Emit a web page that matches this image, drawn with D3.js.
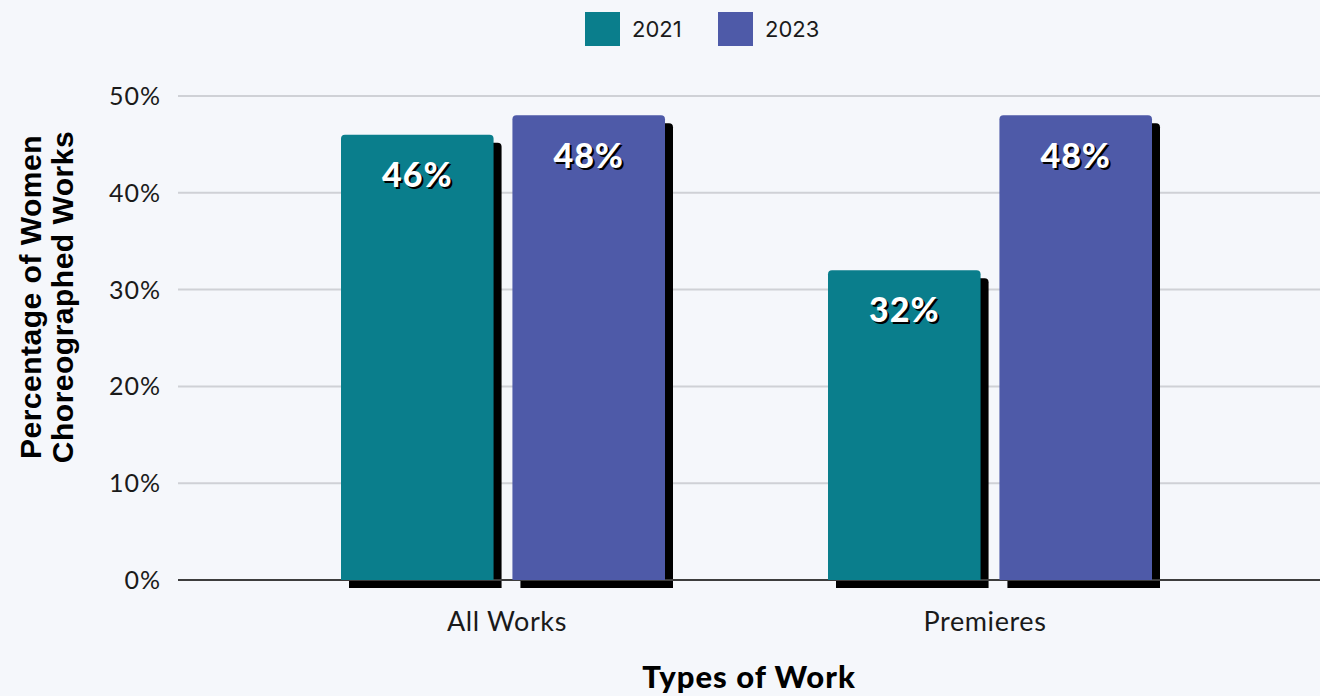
<!DOCTYPE html>
<html><head><meta charset="utf-8">
<script src="https://cdn.jsdelivr.net/npm/d3@7"></script>
<style>
html,body{margin:0;padding:0;background:#f5f7fb;}
svg{display:block;}
</style></head>
<body>
<svg id="chart" width="1320" height="696"></svg>
<script>
const categories = ["All Works", "Premieres"];
const seriesNames = ["2021", "2023"];
const values2021 = [46, 32];
const values2023 = [48, 48];
const yTicks = [0, 10, 20, 30, 40, 50];
const colors = ["#0a7e8c", "#4e5aa8"];

const svg = d3.select("#chart");
const plotLeft = 178, plotRight = 1320;
const y = d3.scaleLinear().domain([0, 50]).range([580, 96]);
const x = d3.scaleBand().domain(categories).range([259.5, 1233.5]).paddingInner(0).paddingOuter(0);
const xs = d3.scaleBand().domain(seriesNames).range([0, 324]).paddingInner(0.11);
const groupOffset = (x.bandwidth() - 324) / 2;

// gridlines
svg.append("g").selectAll("line").data(yTicks.filter(d => d > 0)).join("line")
  .attr("x1", plotLeft).attr("x2", plotRight)
  .attr("y1", d => y(d)).attr("y2", d => y(d))
  .attr("stroke", "#cfd1d6").attr("stroke-width", 2);

// y tick labels
svg.append("g").selectAll("text").data(yTicks).join("text")
  .attr("x", 161).attr("y", d => y(d)).attr("dy", "0.36em")
  .attr("text-anchor", "end")
  .attr("font-family", "Lato, 'Noto Sans', sans-serif").attr("font-size", 25)
  .attr("letter-spacing", 1)
  .attr("fill", "#1a1a1a")
  .text(d => d + "%");

const data = [];
categories.forEach((c, i) => {
  data.push({cat: c, s: "2021", v: values2021[i], color: colors[0]});
  data.push({cat: c, s: "2023", v: values2023[i], color: colors[1]});
});

function roundedTop(x0, y0, w, h, r) {
  return `M${x0},${y0 + h} L${x0},${y0 + r} Q${x0},${y0} ${x0 + r},${y0} L${x0 + w - r},${y0} Q${x0 + w},${y0} ${x0 + w},${y0 + r} L${x0 + w},${y0 + h} Z`;
}

const bx = d => x(d.cat) + groupOffset + xs(d.s);
const bw = xs.bandwidth();

// shadows
svg.append("g").selectAll("path").data(data).join("path")
  .attr("d", d => roundedTop(bx(d) + 8, y(d.v) + 8, bw, y(0) - y(d.v), 4))
  .attr("fill", "#000");

// baseline
svg.append("line").attr("x1", plotLeft).attr("x2", plotRight)
  .attr("y1", y(0)).attr("y2", y(0)).attr("stroke", "#3d3d3d").attr("stroke-width", 2);

// bars
svg.append("g").selectAll("path").data(data).join("path")
  .attr("d", d => roundedTop(bx(d), y(d.v), bw, y(0) - y(d.v), 4))
  .attr("fill", d => d.color);

// value labels
const lbl = svg.append("g").selectAll("g").data(data).join("g")
  .attr("transform", d => `translate(${bx(d) + bw / 2},${y(d.v) + 40})`);
lbl.append("text").attr("x", 2).attr("y", 2).attr("dy", "0.36em")
  .attr("text-anchor", "middle").attr("font-family", "Lato, sans-serif")
  .attr("font-weight", 900).attr("font-size", 34).attr("letter-spacing", 1).attr("fill", "#000")
  .text(d => d.v + "%");
lbl.append("text").attr("dy", "0.36em")
  .attr("text-anchor", "middle").attr("font-family", "Lato, sans-serif")
  .attr("font-weight", 900).attr("font-size", 34).attr("letter-spacing", 1).attr("fill", "#fff")
  .text(d => d.v + "%");

// x tick labels
const labelShift = {"All Works": 4, "Premieres": -5};
svg.append("g").selectAll("text").data(categories).join("text")
  .attr("x", d => x(d) + x.bandwidth() / 2 + labelShift[d]).attr("y", 621).attr("dy", "0.36em")
  .attr("text-anchor", "middle").attr("font-family", "Lato, 'Noto Sans', sans-serif")
  .attr("font-size", 27).attr("letter-spacing", 0.6).attr("fill", "#1a1a1a")
  .text(d => d);

// x axis title
svg.append("text").attr("x", 749).attr("y", 677).attr("dy", "0.36em")
  .attr("text-anchor", "middle").attr("font-family", "Lato, sans-serif")
  .attr("font-weight", 900).attr("font-size", 31).attr("letter-spacing", 1).attr("fill", "#000")
  .text("Types of Work");

// y axis title
const yt = svg.append("text").attr("transform", "translate(0,297) rotate(-90)")
  .attr("text-anchor", "middle").attr("font-family", "'Liberation Sans', Arial, sans-serif")
  .attr("font-weight", 700).attr("font-size", 30).attr("letter-spacing", 0.5).attr("fill", "#000");
yt.append("tspan").attr("x", 0).attr("y", 41).text("Percentage of Women");
yt.append("tspan").attr("x", 0).attr("y", 73).text("Choreographed Works");

// legend
const leg = svg.append("g").selectAll("g").data(seriesNames).join("g")
  .attr("transform", (d, i) => `translate(${585 + i * 133},12)`);
leg.append("rect").attr("width", 35).attr("height", 34).attr("fill", (d, i) => colors[i]);
leg.append("text").attr("x", 47).attr("y", 17).attr("dy", "0.36em")
  .attr("font-family", "Inter, Roboto, sans-serif").attr("font-size", 22).attr("fill", "#1a1a1a")
  .text(d => d);
</script>
</body></html>
